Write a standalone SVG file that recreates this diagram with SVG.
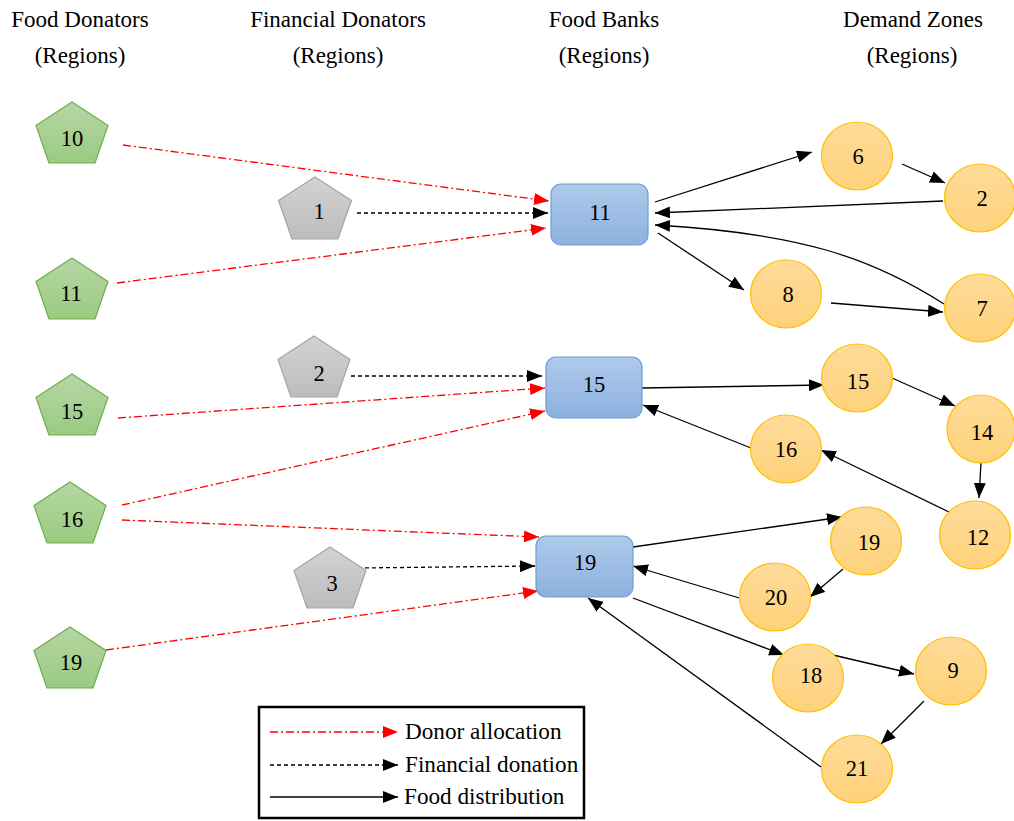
<svg xmlns="http://www.w3.org/2000/svg" width="1014" height="821" viewBox="0 0 1014 821">
  <style>
    text { font-family: "Liberation Serif", "Times New Roman", serif; fill: #000; }
    .hdr { font-size: 23px; text-anchor: middle; }
    .lbl { font-size: 22.5px; text-anchor: middle; }
    .leg { font-size: 23.2px; }
    .donor { fill: url(#gGreen); stroke: #70ad47; stroke-width: 1.2; }
    .fin { fill: url(#gGray); stroke: #a5a5a5; stroke-width: 1.2; }
    .bank { fill: url(#gBlue); stroke: #6a9ed6; stroke-width: 1.2; }
    .zone { fill: url(#gOrange); stroke: #ffc000; stroke-width: 1.2; }
    .alloc { fill: none; stroke: #ff0000; stroke-width: 1.3; stroke-dasharray: 8 3 2 3; marker-end: url(#arrRed); }
    .money { fill: none; stroke: #000; stroke-width: 1.3; stroke-dasharray: 4 3; marker-end: url(#arrBlack); }
    .flow { fill: none; stroke: #000; stroke-width: 1.3; marker-end: url(#arrBlack); }
  </style>
  <defs>
    <linearGradient id="gGreen" x1="0" y1="0" x2="0" y2="1">
      <stop offset="0" stop-color="#b6d6a5"/>
      <stop offset="1" stop-color="#9acb81"/>
    </linearGradient>
    <linearGradient id="gGray" x1="0" y1="0" x2="0" y2="1">
      <stop offset="0" stop-color="#d3d3d3"/>
      <stop offset="1" stop-color="#bcbcbc"/>
    </linearGradient>
    <linearGradient id="gBlue" x1="0" y1="0" x2="0" y2="1">
      <stop offset="0" stop-color="#afcaea"/>
      <stop offset="1" stop-color="#8cb1df"/>
    </linearGradient>
    <linearGradient id="gOrange" x1="0" y1="0" x2="0" y2="1">
      <stop offset="0" stop-color="#fedb9a"/>
      <stop offset="1" stop-color="#ffd27a"/>
    </linearGradient>
    <marker id="arrBlack" markerUnits="userSpaceOnUse" markerWidth="15" markerHeight="12" refX="15" refY="6" orient="auto">
      <path d="M0,0 L15,6 L0,12 z" fill="#000"/>
    </marker>
    <marker id="arrRed" markerUnits="userSpaceOnUse" markerWidth="15" markerHeight="12" refX="15" refY="6" orient="auto">
      <path d="M0,0 L15,6 L0,12 z" fill="#ff0000"/>
    </marker>
  </defs>

  <rect width="1014" height="821" fill="#fff"/>

  <!-- column headers -->
  <g id="headers">
    <text class="hdr" x="80" y="27">Food Donators</text>
    <text class="hdr" x="80" y="63">(Regions)</text>
    <text class="hdr" x="338" y="27">Financial Donators</text>
    <text class="hdr" x="338" y="63">(Regions)</text>
    <text class="hdr" x="604" y="27">Food Banks</text>
    <text class="hdr" x="604" y="63">(Regions)</text>
    <text class="hdr" x="913" y="27">Demand Zones</text>
    <text class="hdr" x="912" y="63">(Regions)</text>
  </g>

  <!-- connectors -->
  <g id="connectors">
    <!-- donor allocation -->
    <line class="alloc" x1="123" y1="145" x2="549" y2="201"/>
    <line class="alloc" x1="117" y1="283" x2="546" y2="228"/>
    <line class="alloc" x1="118" y1="418" x2="545" y2="388"/>
    <line class="alloc" x1="122" y1="505" x2="545" y2="411"/>
    <line class="alloc" x1="122" y1="520" x2="539" y2="537"/>
    <line class="alloc" x1="106" y1="650" x2="538" y2="591"/>
    <!-- financial donation -->
    <line class="money" x1="357" y1="213" x2="548" y2="213"/>
    <line class="money" x1="351" y1="376" x2="542" y2="376"/>
    <line class="money" x1="358" y1="568" x2="535" y2="566"/>
    <!-- food distribution: bank 11 -->
    <line class="flow" x1="655" y1="202" x2="812" y2="152"/>
    <line class="flow" x1="902" y1="164" x2="945" y2="183"/>
    <line class="flow" x1="943" y1="201" x2="655" y2="213"/>
    <path class="flow" d="M944,304 C872,258 800,233 655,225"/>
    <line class="flow" x1="658" y1="233" x2="744" y2="290"/>
    <line class="flow" x1="831" y1="303" x2="943" y2="312"/>
    <!-- food distribution: bank 15 -->
    <line class="flow" x1="642" y1="388" x2="824" y2="385"/>
    <line class="flow" x1="892" y1="378" x2="955" y2="406"/>
    <line class="flow" x1="981" y1="463" x2="979" y2="498"/>
    <line class="flow" x1="949" y1="512" x2="821" y2="450"/>
    <line class="flow" x1="756" y1="450" x2="643" y2="405"/>
    <!-- food distribution: bank 19 -->
    <line class="flow" x1="633" y1="547" x2="842" y2="517"/>
    <line class="flow" x1="843" y1="569" x2="810" y2="597"/>
    <line class="flow" x1="746" y1="600" x2="633" y2="566"/>
    <line class="flow" x1="633" y1="598" x2="784" y2="655"/>
    <line class="flow" x1="833" y1="655" x2="914" y2="674"/>
    <line class="flow" x1="924" y1="701" x2="881" y2="744"/>
    <line class="flow" x1="821" y1="767" x2="588" y2="598"/>
  </g>

  <!-- food donators -->
  <g id="donor-10"><polygon class="donor" points="72,102 108,125.5 95,163 49,163 36,125.5"/><text class="lbl" x="72" y="146">10</text></g>
  <g id="donor-11"><polygon class="donor" points="72,258 108,281.5 95,319 49,319 36,281.5"/><text class="lbl" x="71" y="301">11</text></g>
  <g id="donor-15"><polygon class="donor" points="72,374 108,397.5 95,435 49,435 36,397.5"/><text class="lbl" x="72" y="419">15</text></g>
  <g id="donor-16"><polygon class="donor" points="70,482 106,505.5 93,543 47,543 34,505.5"/><text class="lbl" x="72" y="527">16</text></g>
  <g id="donor-19"><polygon class="donor" points="70,627 106,650.5 93,688 47,688 34,650.5"/><text class="lbl" x="71" y="670">19</text></g>

  <!-- financial donators -->
  <g id="fin-1"><polygon class="fin" points="315,177 351.5,200.5 338,239 292,239 278.5,200.5"/><text class="lbl" x="319" y="219">1</text></g>
  <g id="fin-2"><polygon class="fin" points="314,336 350,359.5 337,397 291,397 278,359.5"/><text class="lbl" x="319" y="381">2</text></g>
  <g id="fin-3"><polygon class="fin" points="330,547 366,570.5 353,608 307,608 294,570.5"/><text class="lbl" x="332" y="591">3</text></g>

  <!-- food banks -->
  <g id="bank-11"><rect class="bank" x="551" y="184" width="97" height="61" rx="10"/><text class="lbl" x="600" y="220">11</text></g>
  <g id="bank-15"><rect class="bank" x="546" y="357" width="96" height="61" rx="10"/><text class="lbl" x="594" y="392">15</text></g>
  <g id="bank-19"><rect class="bank" x="536" y="536" width="97" height="61" rx="10"/><text class="lbl" x="585" y="570">19</text></g>

  <!-- demand zones -->
  <g id="zone-6"><ellipse class="zone" cx="857" cy="156" rx="35.5" ry="34"/><text class="lbl" x="858" y="164">6</text></g>
  <g id="zone-2"><ellipse class="zone" cx="980" cy="198" rx="35.5" ry="34"/><text class="lbl" x="982" y="206">2</text></g>
  <g id="zone-8"><ellipse class="zone" cx="786" cy="294" rx="35.5" ry="34"/><text class="lbl" x="788" y="302">8</text></g>
  <g id="zone-7"><ellipse class="zone" cx="980" cy="308" rx="35.5" ry="34"/><text class="lbl" x="982" y="316">7</text></g>
  <g id="zone-15"><ellipse class="zone" cx="857" cy="378" rx="35.5" ry="34"/><text class="lbl" x="858" y="389">15</text></g>
  <g id="zone-14"><ellipse class="zone" cx="981" cy="429" rx="34" ry="34"/><text class="lbl" x="982" y="440">14</text></g>
  <g id="zone-16"><ellipse class="zone" cx="786" cy="449" rx="35.5" ry="34"/><text class="lbl" x="786" y="457">16</text></g>
  <g id="zone-12"><ellipse class="zone" cx="975" cy="535" rx="35.5" ry="34"/><text class="lbl" x="978" y="545">12</text></g>
  <g id="zone-19"><ellipse class="zone" cx="866" cy="541" rx="35.5" ry="34"/><text class="lbl" x="869" y="550">19</text></g>
  <g id="zone-20"><ellipse class="zone" cx="775" cy="597" rx="35.5" ry="34"/><text class="lbl" x="776" y="605">20</text></g>
  <g id="zone-18"><ellipse class="zone" cx="808" cy="678" rx="35.5" ry="34"/><text class="lbl" x="811" y="683">18</text></g>
  <g id="zone-9"><ellipse class="zone" cx="951" cy="671" rx="35.5" ry="34"/><text class="lbl" x="953" y="678">9</text></g>
  <g id="zone-21"><ellipse class="zone" cx="857" cy="769" rx="35.5" ry="34"/><text class="lbl" x="857" y="776">21</text></g>

  <!-- legend -->
  <g id="legend">
    <rect x="259" y="707" width="325" height="111" fill="#fff" stroke="#000" stroke-width="2.5"/>
    <line class="alloc" x1="270" y1="732" x2="398" y2="732"/>
    <line class="money" x1="270" y1="765" x2="398" y2="765"/>
    <line class="flow" x1="270" y1="797" x2="398" y2="797"/>
    <text class="leg" x="405" y="739">Donor allocation</text>
    <text class="leg" x="405" y="772">Financial donation</text>
    <text class="leg" x="404" y="804">Food distribution</text>
  </g>
</svg>
